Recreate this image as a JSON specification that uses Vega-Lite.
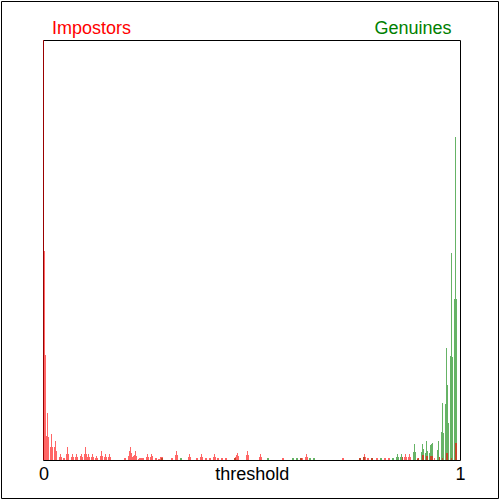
{
 "$schema": "https://vega.github.io/schema/vega-lite/v6.json",
 "autosize": {"type": "none"},
 "padding": {"left": 43, "top": 40, "right": 40, "bottom": 40},
 "width": 417,
 "height": 420,
 "background": "white",
 "config": {
  "view": {"stroke": "black", "strokeWidth": 1},
  "scale": {"continuousPadding": 0},
  "axis": {"grid": false, "domain": false, "ticks": false, "tickSize": 0, "labelFont": "Liberation Sans", "labelFontSize": 18, "labelFlush": false, "labelOverlap": false, "labelBound": false}
 },
 "datasets": {
  "genuines": [
   {"t":0.2832,"n":0.7},{"t":0.2856,"n":0.7},{"t":0.3288,"n":0.7},{"t":0.3312,"n":0.7},
   {"t":0.4584,"n":0.7},{"t":0.4608,"n":0.7},{"t":0.5376,"n":0.7},{"t":0.54,"n":0.7},
   {"t":0.5976,"n":0.7},{"t":0.6,"n":0.7},{"t":0.6072,"n":0.7},{"t":0.6096,"n":0.7},
   {"t":0.6168,"n":0.7},{"t":0.6192,"n":0.7},{"t":0.6384,"n":0.7},{"t":0.6408,"n":0.7},
   {"t":0.648,"n":0.7},{"t":0.6504,"n":0.7},{"t":0.7584,"n":0.7},{"t":0.7608,"n":0.7},
   {"t":0.768,"n":1.1},{"t":0.7704,"n":1.1},{"t":0.7872,"n":0.7},{"t":0.7896,"n":0.7},
   {"t":0.8088,"n":0.7},{"t":0.8112,"n":0.7},{"t":0.8376,"n":0.7},{"t":0.84,"n":0.7},
   {"t":0.8472,"n":1.1},{"t":0.8496,"n":2.1},{"t":0.852,"n":1.1},
   {"t":0.8568,"n":1.1},{"t":0.8592,"n":2.1},{"t":0.8616,"n":1.1},
   {"t":0.888,"n":2.9},{"t":0.8904,"n":5.7},{"t":0.8928,"n":2.9},
   {"t":0.8976,"n":0.4},{"t":0.9,"n":0.7},
   {"t":0.9072,"n":2.9},{"t":0.9096,"n":5.7},{"t":0.912,"n":3.9},
   {"t":0.9168,"n":2.5},{"t":0.9192,"n":6.8},{"t":0.9216,"n":3.2},
   {"t":0.9264,"n":2.5},{"t":0.9288,"n":5.4},{"t":0.9312,"n":5.7},{"t":0.9336,"n":6.1},
   {"t":0.9456,"n":3.6},{"t":0.948,"n":6.8},{"t":0.9504,"n":1.1},
   {"t":0.9552,"n":10},{"t":0.9576,"n":20.4},{"t":0.96,"n":9.6},
   {"t":0.9648,"n":20},{"t":0.9672,"n":40},{"t":0.9696,"n":26.8},{"t":0.972,"n":13.2},
   {"t":0.9768,"n":37.1},{"t":0.9792,"n":73.9},{"t":0.9816,"n":36.8},
   {"t":0.9864,"n":57.5},{"t":0.9888,"n":115.4},{"t":0.9912,"n":57.5}
  ],
  "impostors": [
   {"t":0,"n":500},{"t":0.0024,"n":74.6},{"t":0.0048,"n":37.5},{"t":0.0072,"n":8.6},{"t":0.0096,"n":16.8},{"t":0.012,"n":8.2},
   {"t":0.0168,"n":4.6},{"t":0.0192,"n":9.3},{"t":0.0216,"n":4.6},
   {"t":0.0264,"n":4.6},{"t":0.0288,"n":6.8},{"t":0.0312,"n":3.2},
   {"t":0.0384,"n":1.1},{"t":0.0408,"n":2.1},{"t":0.0432,"n":1.1},
   {"t":0.048,"n":0.7},{"t":0.0504,"n":0.7},
   {"t":0.0552,"n":2.1},{"t":0.0576,"n":4.6},{"t":0.06,"n":2.1},
   {"t":0.0672,"n":1.1},{"t":0.0696,"n":2.1},{"t":0.072,"n":1.1},
   {"t":0.0768,"n":1.1},{"t":0.0792,"n":2.1},{"t":0.0816,"n":1.1},
   {"t":0.0888,"n":1.4},{"t":0.0912,"n":2.1},{"t":0.0936,"n":1.1},
   {"t":0.0984,"n":2.1},{"t":0.1008,"n":4.6},{"t":0.1032,"n":2.1},
   {"t":0.1056,"n":1.1},{"t":0.108,"n":2.1},{"t":0.1104,"n":1.1},
   {"t":0.1152,"n":1.1},{"t":0.1176,"n":2.1},{"t":0.12,"n":1.1},
   {"t":0.1248,"n":0.7},{"t":0.1272,"n":1.4},{"t":0.1296,"n":0.7},
   {"t":0.1368,"n":1.4},{"t":0.1392,"n":3.2},{"t":0.1416,"n":1.4},
   {"t":0.1464,"n":1.1},{"t":0.1488,"n":2.1},{"t":0.1512,"n":1.1},
   {"t":0.156,"n":1.1},{"t":0.1584,"n":2.1},{"t":0.1608,"n":1.1},
   {"t":0.1944,"n":0.7},{"t":0.1968,"n":0.7},
   {"t":0.204,"n":1.4},{"t":0.2064,"n":3.2},{"t":0.2088,"n":4.6},{"t":0.2112,"n":2.5},{"t":0.2136,"n":1.1},
   {"t":0.216,"n":1.4},{"t":0.2184,"n":1.8},{"t":0.2208,"n":3.2},{"t":0.2232,"n":1.4},
   {"t":0.228,"n":0.4},{"t":0.2304,"n":0.7},{"t":0.2328,"n":0.7},{"t":0.2352,"n":0.7},{"t":0.2376,"n":0.7},{"t":0.24,"n":0.7},
   {"t":0.2472,"n":1.1},{"t":0.2496,"n":2.1},{"t":0.252,"n":1.1},
   {"t":0.2568,"n":1.1},{"t":0.2592,"n":2.1},{"t":0.2616,"n":1.4},
   {"t":0.2688,"n":0.7},{"t":0.2712,"n":0.7},{"t":0.276,"n":0.4},{"t":0.2784,"n":0.4},
   {"t":0.2808,"n":1.1},{"t":0.2832,"n":1.1},{"t":0.2856,"n":1.1},
   {"t":0.3072,"n":0.7},{"t":0.3096,"n":0.7},
   {"t":0.3168,"n":1.8},{"t":0.3192,"n":3.2},{"t":0.3216,"n":1.8},
   {"t":0.348,"n":1.1},{"t":0.3504,"n":2.1},{"t":0.3528,"n":1.1},
   {"t":0.3672,"n":0.7},{"t":0.3696,"n":0.7},
   {"t":0.3768,"n":1.1},{"t":0.3792,"n":2.1},{"t":0.3816,"n":1.1},
   {"t":0.3888,"n":0.7},{"t":0.3912,"n":0.7},{"t":0.3984,"n":0.7},{"t":0.4008,"n":0.7},
   {"t":0.408,"n":1.1},{"t":0.4104,"n":2.1},{"t":0.4128,"n":1.1},
   {"t":0.4176,"n":0.7},{"t":0.42,"n":0.7},{"t":0.4272,"n":0.7},{"t":0.4296,"n":0.7},
   {"t":0.4368,"n":0.7},{"t":0.4392,"n":0.7},
   {"t":0.4584,"n":0.7},{"t":0.4608,"n":1.1},{"t":0.4632,"n":1.8},{"t":0.4656,"n":2.5},{"t":0.468,"n":1.4},
   {"t":0.4872,"n":1.8},{"t":0.4896,"n":3.2},{"t":0.492,"n":1.8},
   {"t":0.5184,"n":1.1},{"t":0.5208,"n":2.1},{"t":0.5232,"n":1.1},
   {"t":0.5736,"n":0.7},{"t":0.576,"n":0.7},
   {"t":0.6168,"n":0.7},{"t":0.6192,"n":0.7},{"t":0.6216,"n":0.7},
   {"t":0.6288,"n":1.1},{"t":0.6312,"n":2.1},{"t":0.6336,"n":1.1},
   {"t":0.7176,"n":0.7},{"t":0.72,"n":0.7},
   {"t":0.7584,"n":0.7},{"t":0.7608,"n":0.7},
   {"t":0.768,"n":1.1},{"t":0.7704,"n":2.1},{"t":0.7728,"n":1.1},
   {"t":0.7776,"n":0.7},{"t":0.78,"n":0.7},{"t":0.7872,"n":0.7},{"t":0.7896,"n":0.7},
   {"t":0.7992,"n":0.7},{"t":0.8016,"n":0.7},{"t":0.8184,"n":0.7},{"t":0.8208,"n":0.7},
   {"t":0.828,"n":0.7},{"t":0.8304,"n":0.7},
   {"t":0.8616,"n":1.1},
   {"t":0.8664,"n":1.1},{"t":0.8688,"n":2.1},{"t":0.8712,"n":1.1},
   {"t":0.876,"n":1.1},{"t":0.8784,"n":2.1},{"t":0.8808,"n":1.1},
   {"t":0.8976,"n":0.7},{"t":0.9,"n":0.7},
   {"t":0.9096,"n":1.8},{"t":0.912,"n":1.8},
   {"t":0.9192,"n":1.4},{"t":0.9216,"n":1.4},
   {"t":0.9288,"n":1.4},{"t":0.9312,"n":1.4},{"t":0.9336,"n":1.4},
   {"t":0.9384,"n":0.7},{"t":0.9504,"n":1.1},{"t":0.9576,"n":0.7},
   {"t":0.9672,"n":2.5},{"t":0.9696,"n":2.5},{"t":0.9792,"n":0.7},
   {"t":0.9888,"n":6.1},{"t":0.9912,"n":6.1}
  ]
 },
 "layer": [
  {
   "data": {"name": "genuines"},
   "mark": {"type": "bar", "orient": "vertical", "width": 1, "color": "#008000", "opacity": 0.6, "clip": true},
   "encoding": {
    "x": {"field": "t", "type": "quantitative",
     "scale": {"domain": [-0.0012, 0.9996], "nice": false, "zero": false, "padding": 0},
     "axis": {"orient": "top", "values": [0, 0.9996], "title": null,
      "labelExpr": "datum.value < 0.5 ? 'Impostors' : 'Genuines'",
      "labelColor": {"condition": {"test": "datum.value < 0.5", "value": "#ff0000"}, "value": "#008000"},
      "labelAlign": {"condition": {"test": "datum.value < 0.5", "value": "left"}, "value": "right"},
      "labelOffset": {"condition": {"test": "datum.value < 0.5", "value": 8}, "value": -9},
      "labelPadding": 3}},
    "y": {"field": "n", "type": "quantitative", "stack": null, "scale": {"domain": [0, 150], "nice": false, "padding": 0}, "axis": null}
   }
  },
  {
   "data": {"name": "impostors"},
   "mark": {"type": "bar", "orient": "vertical", "width": 1, "color": "#ff0000", "opacity": 0.6, "clip": true},
   "encoding": {
    "x": {"field": "t", "type": "quantitative",
     "axis": {"orient": "bottom", "values": [0, 0.5, 0.9996], "title": null,
      "labelExpr": "datum.value < 0.25 ? '0' : datum.value > 0.75 ? '1' : 'threshold'",
      "labelColor": "black", "labelPadding": 5}},
    "y": {"field": "n", "type": "quantitative", "stack": null, "axis": null}
   }
  },
  {
   "data": {"values": [{}]},
   "mark": {"type": "rect", "filled": false, "color": "black", "strokeWidth": 1, "clip": false},
   "encoding": {
    "x": {"datum": -0.1008, "type": "quantitative", "axis": null},
    "x2": {"datum": 1.092},
    "y": {"datum": 163.75, "type": "quantitative", "axis": null},
    "y2": {"datum": -13.75}
   }
  }
 ]
}
